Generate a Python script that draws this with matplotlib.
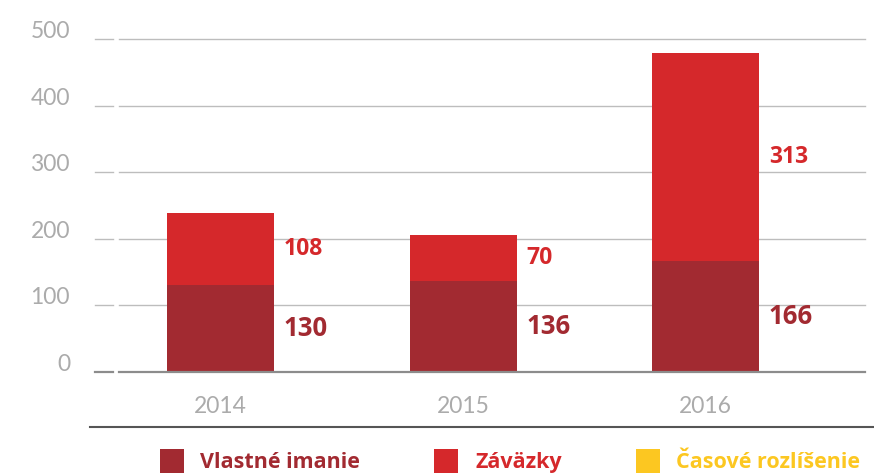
import matplotlib
matplotlib.use("Agg")
import matplotlib.pyplot as plt
from matplotlib.lines import Line2D
from matplotlib.patches import Rectangle

years = ["2014", "2015", "2016"]
equity = [130, 136, 166]          # Vlastné imanie
liabilities = [108, 70, 313]      # Záväzky
accruals = [0, 0, 0]              # Časové rozlíšenie
yticks = [0, 100, 200, 300, 400, 500]
legend_labels = ["Vlastné imanie", "Záväzky", "Časové rozlíšenie"]

c_equity = "#A22A31"
c_liab = "#D5282B"
c_accr = "#FCC721"
grid_c = "#BDBDBD"
tick_c = "#ABABAB"

W, H = 874, 473
fig = plt.figure(figsize=(W / 100, H / 100), dpi=100)

ax_left, ax_right = 95, 865
ax_bot, ax_top = 372, 30
ax = fig.add_axes([ax_left / W, (H - ax_bot) / H, (ax_right - ax_left) / W, (ax_bot - ax_top) / H])
px_per_unit = 333 / 500
ax.set_ylim(0, (ax_bot - ax_top) / px_per_unit)
spacing = 242.5
ax.set_xlim(-(220.5 - ax_left) / spacing, 2 + (ax_right - 705.5) / spacing)
for s in ax.spines.values():
    s.set_visible(False)
ax.set_yticks([])

x = list(range(len(years)))
bw = 107 / spacing
tr = ax.get_yaxis_transform()

for t in yticks:
    col = "#8C8C8C" if t == 0 else grid_c
    lw = 1.6 if t == 0 else 1.0
    ax.plot([0, 18 / 770], [t, t], transform=tr, color=col, lw=lw, zorder=1, clip_on=False)
    ax.plot([24 / 770, 1], [t, t], transform=tr, color=col, lw=lw, zorder=1 if t else 4, clip_on=False)
    ax.text(-25 / 770, t + 1.5, str(t), transform=tr, ha="right", va="baseline",
            fontsize=16.5, color=tick_c, family="Lato")

ax.bar(x, equity, width=bw, color=c_equity, zorder=3)
ax.bar(x, liabilities, width=bw, bottom=equity, color=c_liab, zorder=3)
ax.bar(x, accruals, width=bw, bottom=[e + l for e, l in zip(equity, liabilities)], color=c_accr, zorder=3)

ax.set_xticks(x)
ax.set_xticklabels(years, fontsize=16.5, color=tick_c, family="Lato")
ax.tick_params(axis="x", length=0, pad=17)

for i in x:
    ax.text(i + bw / 2 + 10 / spacing, equity[i] / 2, str(equity[i]), ha="left", va="center",
            fontsize=18.5, fontweight="bold", color=c_equity, family="Open Sans")
    ax.text(i + bw / 2 + 10 / spacing, equity[i] + liabilities[i] / 2, str(liabilities[i]),
            ha="left", va="center", fontsize=16.5, fontweight="bold", color=c_liab, family="Open Sans")

fig.add_artist(Line2D([90 / W, 1], [(H - 427) / H] * 2, color="#555555", lw=1.5))

leg_cols = [c_equity, c_liab, c_accr]
sq_x = [160, 434, 636]
txt_x = [200, 475, 676]
for lab, col, sx, tx in zip(legend_labels, leg_cols, sq_x, txt_x):
    fig.add_artist(Rectangle((sx / W, 0), 24 / W, 24 / H, transform=fig.transFigure,
                             color=col, lw=0))
    fig.text(tx / W, (H - 462) / H, lab, ha="left", va="center", fontsize=15.5,
             fontweight="bold", color=col, family="Open Sans")

fig.savefig("out.png", dpi=100)
